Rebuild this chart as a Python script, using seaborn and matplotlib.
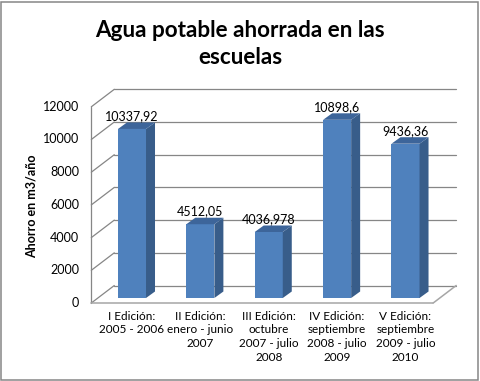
import numpy as np
import pandas as pd
import matplotlib
matplotlib.use("Agg")
import matplotlib.pyplot as plt
import seaborn as sns
from matplotlib.patches import Polygon, Rectangle
from matplotlib.lines import Line2D

# ---- data ----
categories = [
    "I Edición:\n2005 - 2006",
    "II Edición:\nenero - junio\n2007",
    "III Edición:\noctubre\n2007 - julio\n2008",
    "IV Edición:\nseptiembre\n2008 - julio\n2009",
    "V Edición:\nseptiembre\n2009 - julio\n2010",
]
values = [10337.92, 4512.05, 4036.978, 10898.6, 9436.36]
value_labels = ["10337,92", "4512,05", "4036,978", "10898,6", "9436,36"]
y_ticks = [0, 2000, 4000, 6000, 8000, 10000, 12000]
y_tick_labels = ["0", "2000", "4000", "6000", "8000", "10000", "12000"]
title = "Agua potable ahorrada en las\nescuelas"
y_label = "Ahorro en m3/año"

sns.set_theme(style="white")
plt.rcParams["font.family"] = ["Lato", "DejaVu Sans"]

W, H = 481, 381
fig = plt.figure(figsize=(W / 100, H / 100), dpi=100)
fig.patch.set_facecolor("white")
ax = fig.add_axes([97.8 / W, (H - 298) / H, 341.9 / W, 196.2 / H])

df = pd.DataFrame({"edicion": categories, "ahorro": values})
sns.barplot(data=df, x="edicion", y="ahorro", color="#4F81BD", saturation=1,
            width=0.41, linewidth=0, ax=ax, zorder=3, errorbar=None)

ax.set_xlim(-0.5, len(categories) - 0.5)
ax.set_ylim(y_ticks[0], y_ticks[-1])
for s in ax.spines.values():
    s.set_visible(False)
ax.set_facecolor("none")
ax.set_xlabel("")
ax.set_ylabel("")
ax.set_yticks([])
ax.tick_params(axis="x", length=0, pad=9.0, labelsize=8.5, colors="black")
for lbl in ax.get_xticklabels():
    lbl.set_linespacing(1.3)

FRONT = (-6.5, -5.0)
BACK = (16.5, 12.5)
DEPTH = (9.0, 6.5)
inv = ax.transAxes.inverted()


def P(x, y, off=(0.0, 0.0)):
    d = ax.transData.transform((x, y))
    return inv.transform((d[0] + off[0], d[1] + off[1]))


def seg(a, b, color, lw, z=1):
    ax.add_line(Line2D([a[0], b[0]], [a[1], b[1]], transform=ax.transAxes,
                       clip_on=False, color=color, lw=lw, zorder=z))


xl, xr = ax.get_xlim()
grid_c = "#868686"
floor_c = "#A6A6A6"
for t in y_ticks:
    seg(P(xl, t, BACK), P(xr, t, BACK), grid_c, 0.9)
    seg(P(xl, t, FRONT), P(xl, t, BACK), grid_c, 0.9)
seg(P(xl, y_ticks[0], FRONT), P(xl, y_ticks[-1], FRONT), grid_c, 0.9)
seg(P(xl, 0, FRONT), P(xr, 0, FRONT), floor_c, 1.1)
seg(P(xr, 0, FRONT), P(xr, 0, BACK), floor_c, 1.1)

# y tick labels on the front plane
for t, s in zip(y_ticks, y_tick_labels):
    pos = P(xl, t, (FRONT[0] - 12, FRONT[1]))
    ax.text(pos[0], pos[1], s, transform=ax.transAxes, ha="right", va="center",
            fontsize=9, color="black")

# 3D faces for bars
bars = list(ax.patches)
for i, p in enumerate(bars):
    x0 = p.get_x()
    x1 = x0 + p.get_width()
    h = p.get_height()
    side = [P(x1, 0), P(x1, h), P(x1, h, DEPTH), P(x1, 0, DEPTH)]
    top = [P(x0, h), P(x1, h), P(x1, h, DEPTH), P(x0, h, DEPTH)]
    ax.add_patch(Polygon(side, closed=True, transform=ax.transAxes, clip_on=False,
                         facecolor="#385D8A", edgecolor="none", zorder=3))
    ax.add_patch(Polygon(top, closed=True, transform=ax.transAxes, clip_on=False,
                         facecolor="#3D659A", edgecolor="none", zorder=3))
    ax.annotate(value_labels[i], xy=(x0 + p.get_width() / 2, h), xytext=(0, 7),
                textcoords="offset pixels", ha="center", va="bottom",
                fontsize=9, color="black", zorder=5)

fig.text(240 / W, 1 - 44 / H, title, ha="center", va="center", fontsize=16.2,
         fontweight="bold", linespacing=1.38, color="black")
fig.text(32 / W, 1 - 206 / H, y_label, rotation=90, ha="center", va="center",
         fontsize=9, fontweight="bold", color="black")

fig.add_artist(Rectangle((1 / W, 1.5 / H), 477.5 / W, (H - 3) / H, fill=False,
                         edgecolor="#868686", lw=1.1, transform=fig.transFigure))

fig.savefig("out.png", dpi=100)
